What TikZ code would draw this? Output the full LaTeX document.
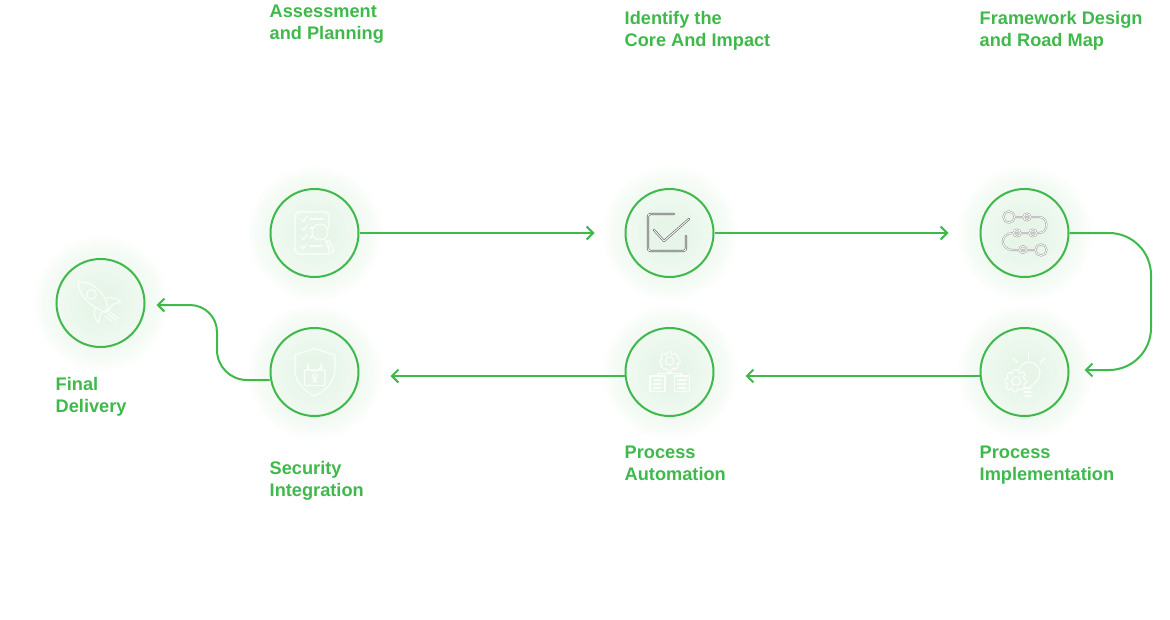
\documentclass[tikz,border=0pt]{standalone}
\usepackage{fontspec}
\setmainfont{Liberation Sans}
\usetikzlibrary{arrows.meta}
\definecolor{gr}{HTML}{3FB94B}
\definecolor{gcore}{HTML}{E6F5E8}
\definecolor{gmid}{HTML}{EAF7EC}
\definecolor{gedge}{HTML}{F0F9F1}
\definecolor{gout}{HTML}{F6FBF6}
\definecolor{gfar}{HTML}{FCFEFC}
\pgfdeclareradialshading{glowshade}{\pgfpoint{0bp}{0bp}}{
 color(0bp)=(gcore);
 color(5bp)=(gcore);
 color(9.4bp)=(gmid);
 color(15.8bp)=(gedge);
 color(20bp)=(gout);
 color(23.5bp)=(gfar);
 color(25bp)=(white);
 color(100bp)=(white)}
\tikzset{
 x=1pt,y=-1pt,
 ring/.style={circle,draw=gr,line width=2pt,minimum size=88pt,inner sep=0pt},
 link/.style={draw=gr,line width=2pt,-{Straight Barb[length=6.5pt,width=13pt,line width=2pt]},line join=round},
 lab/.style={anchor=north west,inner sep=0pt,text=gr,align=left,font=\fontsize{18.2}{22}\selectfont\bfseries},
 ico/.style={draw=white,draw opacity=.85,line width=1.1pt,line cap=round,line join=round},
}
\newcommand{\glowat}[2]{\shade[shading=glowshade] (#1,#2) circle[radius=69.5pt];}
\begin{document}
\begin{tikzpicture}
\useasboundingbox (0,0) rectangle (1170,619);
\fill[white] (0,0) rectangle (1170,619);
\glowat{314.5}{233}\glowat{669.5}{233}\glowat{1024.5}{233}
\glowat{1024.5}{372}\glowat{669.5}{372}\glowat{314.5}{372}\glowat{100.5}{303}
\node[ring] (a) at (314.5,233) {};
\node[ring] (b) at (669.5,233) {};
\node[ring] (c) at (1024.5,233) {};
\node[ring] (d) at (1024.5,372) {};
\node[ring] (e) at (669.5,372) {};
\node[ring] (f) at (314.5,372) {};
\node[ring] (g) at (100.5,303) {};
\coordinate (bin) at (594.5,233);
\coordinate (cin) at (948.5,233);
\coordinate (din) at (1084.5,370);
\coordinate (ein) at (745.5,376);
\coordinate (fin) at (390.5,376);
\coordinate (gin) at (156.5,305);
\draw[link] (a.east) -- (bin);
\draw[link] (b.east) -- (cin);
\draw[link] (c.east) -- (1109,233) arc[start angle=-90,end angle=0,radius=42] -- (1151,328) arc[start angle=0,end angle=90,radius=42] -- (din);
\draw[link] (d.west |- 0,376) -- (ein);
\draw[link] (e.west |- 0,376) -- (fin);
\draw[link] (f.west |- 0,380) -- (247,380) arc[start angle=90,end angle=180,radius=30] -- (217,332) arc[start angle=0,end angle=-90,radius=27] -- (gin);
% labels
\node[lab] (la) at (269.5,5) {Assessment\\and Planning};
\node[lab] (lb) at (624.5,11) {Identify the\\Core And Impact};
\node[lab] (lc) at (979.5,11) {Framework Design\\and Road Map};
\node[lab] (ld) at (979.5,446) {Process\\Implementation};
\node[lab] (le) at (624.5,446) {Process\\Automation};
\node[lab] (lf) at (269.5,461) {Security\\Integration};
\node[lab] (lg) at (55.5,377) {Final\\Delivery};
% icon a : checklist and lens
\begin{scope}[shift={(260,180)},ico]
\draw (69,74) -- (38,74) -- (35,71) -- (35,35) -- (38,32) -- (66,32) -- (69,35) -- (69,48);
\draw (69,65) -- (69,68);
\foreach \y in {39,48,57,66}{\draw (41,\y) -- (43.5,\y+2.5) -- (47,\y-2.5);}
\draw (50,39) -- (63,39);
\draw (50,48) -- (53,48);
\draw (50,57) -- (52,57);
\draw (50,66) -- (62,66);
\draw (60,52) circle[radius=8];
\draw (65,60) -- (68,63);
\draw (66,62) -- (69,60) -- (74,71) -- (70,73.5) -- cycle;
\end{scope}
% icon b : check box
\begin{scope}[shift={(615,180)}]
\foreach \st/\wd in {black!60/2.2pt,white/.9pt}{
\draw[draw=\st,line width=\wd,line cap=round,line join=round,rounded corners=2.5pt] (59,34) -- (33,34) -- (33,71) -- (71,71) -- (71,56);
\draw[draw=\st,line width=\wd,line cap=round,line join=round] (39,50) -- (49,61) -- (74,39);
}
\end{scope}
% icon c : road map
\begin{scope}[shift={(970,180)}]
\foreach \st/\wd in {black!35/2pt,white/.8pt}{
\draw[draw=\st,line width=\wd,line cap=round] (45,37) -- (69,37) .. controls (79,37) and (79,53) .. (69,53) -- (44,53) .. controls (29,53) and (29,70) .. (44,70) -- (65,70);
\draw[draw=\st,line width=\wd] (39,37) circle[radius=5.6];
\draw[draw=\st,line width=\wd] (71,70) circle[radius=5.6];
\draw[draw=\st,line width=\wd] (57,37) circle[radius=3.4];
\draw[draw=\st,line width=\wd] (47,53) circle[radius=3.4];
\draw[draw=\st,line width=\wd] (63,53) circle[radius=3.4];
\draw[draw=\st,line width=\wd] (53,69.5) circle[radius=3.4];
}
\end{scope}
% icon d : bulb and gear
\begin{scope}[shift={(970,320)},ico]
\draw (58.5,32) -- (58.5,40);
\draw (43,38) -- (47.5,42.5);
\draw (75,38) -- (70,43);
\draw (49,50) .. controls (51,45) and (54,42) .. (59,42) .. controls (65,42) and (70,47) .. (70,53) .. controls (70,58) and (66,62) .. (62,65) -- (60,66);
\draw (54,68) -- (61,68);
\draw (54,72) -- (61,72);
\draw (55,76) -- (61,76);
\draw (46,61) circle[radius=4.5];
\draw plot[smooth cycle,tension=.3] coordinates {(44,50)(48,50)(49,53)(53,52)(55,55)(53,57)(55,59)(57,62)(54,64)(54,67)(51,70)(48,68)(46,72)(43,71)(42,68)(39,70)(36,67)(38,64)(35,62)(35,59)(38,58)(37,55)(40,52)(42,54)};
\end{scope}
% icon e : gear and documents
\begin{scope}[shift={(615,320)},ico]
\draw (54.5,41) circle[radius=4.2];
\draw plot[smooth cycle,tension=.3] coordinates {(53,32)(56,32)(57,35)(60,33)(63,36)(62,38)(65,40)(65,43)(62,44)(63,47)(60,49)(58,48)(56,52)(53,52)(52,49)(49,49)(46,46)(47,44)(45,42)(45,40)(47,39)(46,36)(49,33)(51,35)};
\draw (54.5,52) -- (54.5,53.5) (43,56) -- (43,53.5) -- (66,53.5) -- (66,56);
\draw (35,56) rectangle (50,71.5);
\draw (59.5,56) rectangle (74.5,71.5);
\draw (39,60) -- (46,60) (39,64) -- (46,64) (39,68) -- (46,68);
\draw (63,60) -- (71,60) (63,64) -- (71,64) (63,68) -- (71,68);
\end{scope}
% icon f : shield and lock
\begin{scope}[shift={(260,320)},ico]
\draw (54.5,28.5) -- (35,35) -- (35,50) .. controls (35,62) and (44,71) .. (54.5,76) .. controls (65,71) and (75,62) .. (75,50) -- (75,35) -- cycle;
\draw (47.5,50) -- (47.5,44) arc[start angle=180,end angle=0,radius=7] -- (61.5,50);
\draw[rounded corners=1pt] (44.5,50) rectangle (65,65.5);
\draw (54.7,56) circle[radius=2.2];
\draw (54,58.2) -- (53.5,61.5) -- (56,61.5) -- (55.5,58.2);
\end{scope}
% icon g : rocket
\begin{scope}[shift={(45,250)},ico]
\draw (33,32) .. controls (46,31) and (54,38) .. (61,50) -- (63,59) -- (59,62) -- (50,57) .. controls (40,50) and (34,44) .. (33,32) -- cycle;
\draw (46.5,44.5) circle[radius=4.8];
\draw (62,48) .. controls (68,47) and (73,49) .. (76,52) .. controls (71,52) and (67,55) .. (65,58);
\draw (50,58) .. controls (48,64) and (50,70) .. (54,73) .. controls (54,68) and (55,65) .. (57,62);
\draw (60,63) -- (63,60) (62,62) -- (65,59);
\draw (60,66) -- (67,71) (63,64) -- (72,71) (65,62) -- (74,69);
\end{scope}
\end{tikzpicture}
\end{document}
